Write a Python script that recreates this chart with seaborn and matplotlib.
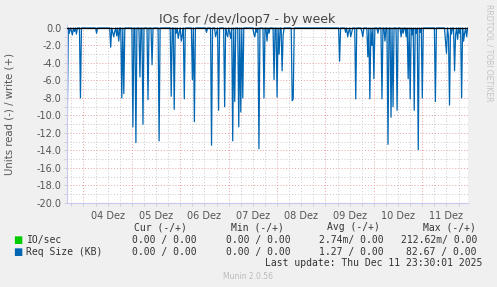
import pandas as pd
import seaborn as sns
import matplotlib.pyplot as plt
import matplotlib.dates as mdates
from matplotlib.ticker import MultipleLocator, FuncFormatter

# read request size (KB), drawn negative; everything not listed sits at 0
spike_times = [
    '2025-12-03 16:00', '2025-12-03 17:00', '2025-12-03 18:00', '2025-12-03 18:30',
    '2025-12-03 19:30', '2025-12-03 20:30', '2025-12-03 22:30',
    '2025-12-04 06:30', '2025-12-04 13:30', '2025-12-04 14:30', '2025-12-04 15:00',
    '2025-12-04 15:30', '2025-12-04 16:30', '2025-12-04 17:30', '2025-12-04 19:00',
    '2025-12-04 20:00',
    '2025-12-05 00:30', '2025-12-05 02:00', '2025-12-05 04:00', '2025-12-05 05:30',
    '2025-12-05 08:00', '2025-12-05 10:00', '2025-12-05 13:30', '2025-12-05 19:30',
    '2025-12-05 21:00', '2025-12-05 22:00', '2025-12-05 23:00', '2025-12-05 23:30',
    '2025-12-06 00:30', '2025-12-06 01:00', '2025-12-06 02:00', '2025-12-06 06:00',
    '2025-12-06 07:00', '2025-12-06 13:00', '2025-12-06 15:30', '2025-12-06 17:30',
    '2025-12-06 18:00', '2025-12-06 19:00', '2025-12-06 22:00', '2025-12-06 23:00',
    '2025-12-06 23:30',
    '2025-12-07 00:30', '2025-12-07 01:00', '2025-12-07 02:00', '2025-12-07 03:00',
    '2025-12-07 05:00', '2025-12-07 06:00', '2025-12-07 07:00', '2025-12-07 12:30',
    '2025-12-07 13:00', '2025-12-07 14:00', '2025-12-07 15:00', '2025-12-07 17:30',
    '2025-12-07 19:00', '2025-12-07 20:00', '2025-12-07 22:30',
    '2025-12-08 00:00', '2025-12-08 01:00', '2025-12-08 02:30', '2025-12-08 03:00',
    '2025-12-08 07:30', '2025-12-08 08:00',
    '2025-12-09 07:00', '2025-12-09 10:00', '2025-12-09 11:00', '2025-12-09 11:30',
    '2025-12-09 12:30', '2025-12-09 13:00', '2025-12-09 15:00', '2025-12-09 18:00',
    '2025-12-09 18:30', '2025-12-09 21:00', '2025-12-09 22:00', '2025-12-09 23:00',
    '2025-12-10 00:00', '2025-12-10 02:00', '2025-12-10 04:00', '2025-12-10 05:30',
    '2025-12-10 07:00', '2025-12-10 08:30', '2025-12-10 09:30', '2025-12-10 11:30',
    '2025-12-10 13:30', '2025-12-10 14:30', '2025-12-10 16:00', '2025-12-10 17:00',
    '2025-12-10 18:00', '2025-12-10 19:00', '2025-12-10 20:00', '2025-12-10 21:00',
    '2025-12-10 22:00', '2025-12-10 23:00',
    '2025-12-11 00:00', '2025-12-11 06:30', '2025-12-11 11:30', '2025-12-11 12:00',
    '2025-12-11 13:00', '2025-12-11 13:30', '2025-12-11 14:30', '2025-12-11 16:00',
    '2025-12-11 16:30', '2025-12-11 17:30', '2025-12-11 18:30', '2025-12-11 19:30',
    '2025-12-11 20:30', '2025-12-11 21:00', '2025-12-11 22:00',
]
spike_vals = [
    -9.8, -0.6, -0.3, -0.8, -0.4, -0.7, -8.0,
    -0.6, -2.2, -0.5, -1.0, -0.4, -0.9, -1.5, -8.0, -7.5,
    -11.3, -13.1, -5.6, -11.0, -8.2, -4.2, -12.9, -7.8,
    -9.3, -0.6, -1.2, -0.5,
    -1.5, -0.8, -8.1, -5.9, -10.7, -0.5, -13.4, -1.0,
    -0.5, -9.4, -9.0, -0.6, -1.0,
    -0.5, -1.2, -12.9, -8.4, -11.3, -9.6, -8.0, -0.7,
    -1.0, -0.5, -13.8, -8.0, -1.5, -0.6, -5.9,
    -7.9, -3.0, -4.9, -0.8, -8.3, -8.1,
    -3.8, -0.5, -1.0, -0.4, -1.0, -0.5, -8.1, -0.4,
    -1.0, -3.3, -8.1, -2.0,
    -5.8, -0.6, -8.1, -1.5, -13.3, -10.2, -9.0, -9.4,
    -1.0, -0.6, -1.0, -5.8, -8.1, -0.8, -9.4, -0.6,
    -13.9, -0.5,
    -8.0, -8.4, -1.5, -2.9, -1.0, -8.8, -0.7, -4.9,
    -0.8, -1.3, -0.6, -8.0, -1.5, -0.6, -1.0,
]

day_labels = ['04 Dez', '05 Dez', '06 Dez', '07 Dez', '08 Dez', '09 Dez', '10 Dez', '11 Dez']
y_ticks = [0, -2, -4, -6, -8, -10, -12, -14, -16, -18, -20]

headers = ['Cur (-/+)', 'Min (-/+)', 'Avg (-/+)', 'Max (-/+)']
series_names = ['IO/sec', 'Req Size (KB)']
series_colors = ['#00CC00', '#0066B3']
io_stats = ['0.00 / 0.00', '0.00 / 0.00', '2.74m/ 0.00', '212.62m/ 0.00']
req_stats = ['0.00 / 0.00', '0.00 / 0.00', '1.27 / 0.00', '82.67 / 0.00']

start = pd.Timestamp('2025-12-03 16:00')
end = pd.Timestamp('2025-12-11 23:00')
idx = pd.date_range(start, end, freq='30min')
s = pd.Series(0.0, index=idx)
s[pd.to_datetime(spike_times)] = spike_vals
df = pd.DataFrame({'time': idx, 'val': s.values})

plt.rcParams['axes.unicode_minus'] = False
fig = plt.figure(figsize=(4.97, 2.87), dpi=100, facecolor='#F0F0F0')
ax = fig.add_axes([67 / 497, 1 - 203 / 287, 401 / 497, 178 / 287])
ax.set_facecolor('white')

sns.lineplot(data=df, x='time', y='val', color='#0066B3', linewidth=0.9, ax=ax)
ax.axhline(0, color='black', linewidth=0.9, zorder=5)

ax.set_xlim(pd.Timestamp('2025-12-03 15:50'), pd.Timestamp('2025-12-11 22:40'))
ax.set_ylim(-20, 0.34)

ax.xaxis.set_major_locator(mdates.DayLocator())
ax.xaxis.set_minor_locator(mdates.HourLocator(byhour=[6, 12, 18]))
ax.xaxis.set_major_formatter(FuncFormatter(lambda v, p: ''))
noon = {pd.Timestamp('2025-12-%02d 12:00' % (i + 4)): lab for i, lab in enumerate(day_labels)}


def minor_fmt(v, p):
    t = pd.Timestamp(mdates.num2date(v)).tz_localize(None).round('h')
    return noon.get(t, '')


ax.xaxis.set_minor_formatter(FuncFormatter(minor_fmt))
ax.set_yticks(y_ticks)
ax.yaxis.set_minor_locator(MultipleLocator(1))
ax.yaxis.set_major_formatter(FuncFormatter(lambda v, p: '%.1f' % v))

ax.grid(which='major', color='#E8A0A0', linestyle=(0, (1, 2)), linewidth=0.7)
ax.grid(which='minor', color='#C8C8C8', linestyle=(0, (1, 2)), linewidth=0.7)
ax.set_axisbelow(True)

ax.tick_params(axis='both', which='both', length=2, width=0.6, color='#C8C8D8',
               labelsize=7, labelcolor='#555555', pad=2)
ax.tick_params(axis='x', which='minor', pad=3.5)
for side in ['top', 'right']:
    ax.spines[side].set_visible(False)
for side in ['left', 'bottom']:
    ax.spines[side].set_color('#C8C8F0')
    ax.spines[side].set_linewidth(0.8)
ax.set_xlabel('')
ax.set_ylabel('')

fig.text(247 / 497, 1 - 20 / 287, 'IOs for /dev/loop7 - by week', ha='center', va='center',
         fontsize=9, color='#444444')
fig.text(10 / 497, 1 - 114 / 287, 'Units read (-) / write (+)', rotation=90,
         ha='center', va='center', fontsize=7.3, color='#555555')
fig.text(489 / 497, 1 - 53 / 287, 'RRDTOOL / TOBI OETIKER', rotation=270,
         ha='center', va='center', fontsize=5.5, color='#C4C4C4')

mono = 'DejaVu Sans Mono'
col_right = [187, 284, 380, 476]
val_right = [197, 291, 384, 477]
for h, xr in zip(headers, col_right):
    fig.text(xr / 497, 1 - 227.5 / 287, h, ha='right', va='center', fontsize=7,
             family=mono, color='#333333')
for row, (name, color, stats) in enumerate(zip(series_names, series_colors, [io_stats, req_stats])):
    y = 1 - (240 + row * 11.7) / 287
    fig.text(13 / 497, y, '■', ha='left', va='center', fontsize=7, color=color)
    fig.text(26.5 / 497, y, name, ha='left', va='center', fontsize=7, family=mono, color='#333333')
    for st, xr in zip(stats, val_right):
        fig.text(xr / 497, y, st, ha='right', va='center', fontsize=7, family=mono, color='#333333')

fig.text(482.5 / 497, 1 - 263.5 / 287, 'Last update: Thu Dec 11 23:30:01 2025', ha='right',
         va='center', fontsize=7, family=mono, color='#333333')
fig.text(248 / 497, 1 - 276.5 / 287, 'Munin 2.0.56', ha='center', va='center', fontsize=5.5,
         color='#BBBBBB')

fig.savefig('out.png', dpi=100, facecolor=fig.get_facecolor())
